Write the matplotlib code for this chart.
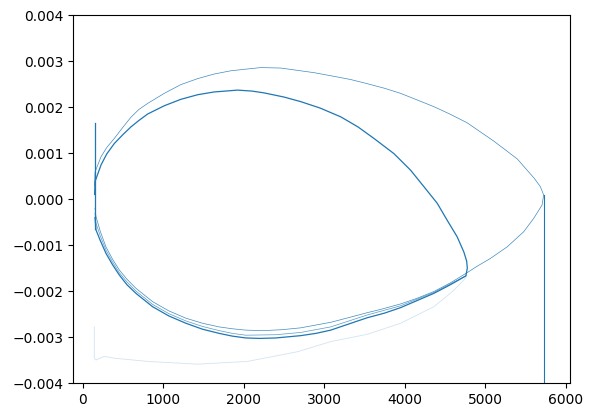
import matplotlib
matplotlib.use('Agg')
import matplotlib.pyplot as plt

# outer loop: upper arc left -> right tip, then lower arc back to the left
outerX = [150, 155, 229, 300, 395, 500, 601, 700, 808, 1015, 1221, 1430, 1634, 1840,
          2048, 2213, 2461, 2709, 2874, 3122, 3330, 3536, 3750, 3949, 4150, 4363, 4560,
          4776, 4941, 5100, 5251, 5400, 5520, 5610, 5685, 5726,
          5706, 5602, 5478, 5272, 5065, 4900, 4776, 4570, 4363, 4150, 3950, 3700, 3536,
          3300, 3081, 2709, 2480, 2254, 2027, 1860, 1696, 1490, 1283, 1070, 870, 663,
          550, 456, 370, 291, 220, 167, 155]
outerY = [0.0003, 0.00059, 0.00092, 0.00112, 0.00132, 0.00156, 0.00178, 0.00195, 0.00208,
          0.0023, 0.00249, 0.00262, 0.00272, 0.00279, 0.00283, 0.00286, 0.00285, 0.00279,
          0.00275, 0.00267, 0.0026, 0.00251, 0.00241, 0.0023, 0.00216, 0.00201, 0.00185,
          0.00166, 0.00146, 0.00127, 0.00107, 0.00087, 0.00063, 0.00045, 0.00027, 0.00009,
          -0.00013, -0.00042, -0.00071, -0.00104, -0.00129, -0.00146, -0.0016, -0.00182,
          -0.00201, -0.00216, -0.00228, -0.0024, -0.00247, -0.00258, -0.00268, -0.0028,
          -0.00284, -0.00286, -0.00285, -0.00282, -0.00278, -0.0027, -0.00259, -0.00243,
          -0.00223, -0.00194, -0.00174, -0.00154, -0.0013, -0.00104, -0.0007, -0.00038,
          -0.0002]

# inner loop (dark)
innerX = [150, 155, 229, 300, 395, 500, 601, 700, 808, 1015, 1221, 1430, 1634, 1924,
          2100, 2254, 2500, 2709, 2950, 3205, 3420, 3618, 3866, 4073, 4239, 4404, 4528,
          4652, 4735, 4770, 4778, 4760,
          4570, 4363, 4150, 3950, 3750, 3536, 3300, 3081, 2900, 2709, 2400, 2200, 2027,
          1860, 1696, 1490, 1283, 1070, 870, 663, 550, 456, 370, 291, 220, 167, 155]
innerY = [0.0001, 0.00038, 0.00074, 0.00098, 0.00121, 0.0014, 0.00157, 0.00171, 0.00185,
          0.00203, 0.00217, 0.00227, 0.00233, 0.00237, 0.00235, 0.00231, 0.00222, 0.00212,
          0.00198, 0.00179, 0.00157, 0.00132, 0.00099, 0.00063, 0.00027, -0.00009,
          -0.00046, -0.00082, -0.00115, -0.00135, -0.0015, -0.00167,
          -0.00186, -0.00205, -0.00221, -0.00236, -0.00248, -0.00258, -0.00272, -0.00285,
          -0.00292, -0.00297, -0.00302, -0.00303, -0.00302, -0.00298, -0.00292, -0.00283,
          -0.0027, -0.00254, -0.00234, -0.00205, -0.00186, -0.00165, -0.00142, -0.00118,
          -0.0009, -0.00067, -0.0004]

# second lower arc, between the outer and inner ones
midX = [4760, 4363, 3950, 3536, 3081, 2709, 2400, 2027, 1860, 1696, 1490, 1283, 1070,
        870, 663, 550, 456, 370, 291, 220, 167, 155]
midY = [-0.00167, -0.00203, -0.00232, -0.00252, -0.00278, -0.0029, -0.00295, -0.00296,
        -0.00292, -0.00286, -0.00277, -0.00265, -0.00249, -0.00229, -0.002, -0.0018,
        -0.0016, -0.00136, -0.00111, -0.0008, -0.00052, -0.0003]

# faint trace underneath
faintX = [146, 146, 167, 270, 394, 808, 1428, 2048, 2668, 3081, 3536, 3950, 4363, 4600,
          4735, 4776]
faintY = [-0.00278, -0.00346, -0.0035, -0.00342, -0.00346, -0.00353, -0.00359, -0.00353,
          -0.00332, -0.0031, -0.00294, -0.0027, -0.00234, -0.002, -0.00176, -0.00165]

leftX = [150, 150]
leftY = [0.00166, -0.00064]
rightX = [5726, 5726]
rightY = [0.00009, -0.0045]

color = '#1f77b4'

fig = plt.figure(figsize=(5.89, 4.18), dpi=100)
ax = fig.add_axes([0.124, 0.0837, 0.844, 0.880])

ax.plot(faintX, faintY, color=color, linewidth=0.6, alpha=0.2)
ax.plot(outerX, outerY, color=color, linewidth=0.5, alpha=0.85)
ax.plot(midX, midY, color=color, linewidth=0.5, alpha=0.75)
ax.plot(innerX, innerY, color=color, linewidth=0.9)
ax.plot(leftX, leftY, color=color, linewidth=0.9)
ax.plot(rightX, rightY, color=color, linewidth=0.8)

ax.set_xlim(-118, 6055)
ax.set_ylim(-0.004, 0.004)

fig.savefig('out.png', dpi=100)
